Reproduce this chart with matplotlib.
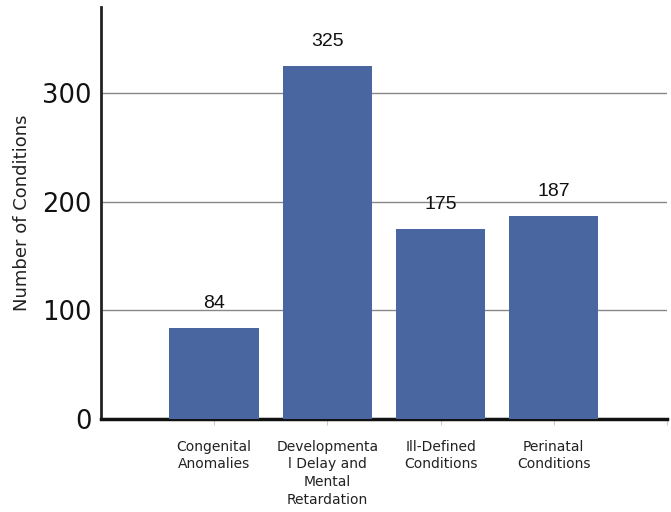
import matplotlib
matplotlib.use('Agg')
import matplotlib.pyplot as plt

# data
categories = ['Congenital\nAnomalies', 'Developmenta\nl Delay and\nMental\nRetardation',
              'Ill-Defined\nConditions', 'Perinatal\nConditions']
counts = [84, 325, 175, 187]
y_ticks = [0, 100, 200, 300]

bar_color = '#4a66a0'

fig = plt.figure(figsize=(6.71, 5.12), dpi=100)
ax = fig.add_axes([0.1505, 0.1816, 0.8435, 0.8044])

positions = list(range(1, len(counts) + 1))
ax.bar(positions, counts, width=0.79, color=bar_color, zorder=3)

for x, v in zip(positions, counts):
    ax.annotate(str(v), (x, v), xytext=(0, 17.5), textcoords='offset points',
                ha='center', va='center', fontsize=14,
                family='Liberation Sans', color='#111111')

ax.set_xlim(0, 5)
ax.set_ylim(0, 379)

ax.set_yticks(y_ticks)
ax.set_yticklabels([str(t) for t in y_ticks], fontsize=18.5, color='#111111')
ax.tick_params(axis='y', length=0, pad=7)

ax.set_xticks(positions + [5])
ax.set_xticklabels(categories + [''], fontsize=10, color='#222222', linespacing=1.33)
ax.tick_params(axis='x', length=4, color='#cccccc', pad=11)

ax.yaxis.grid(True, color='#888888', linewidth=1, zorder=0)
ax.set_axisbelow(True)

for side in ['top', 'right']:
    ax.spines[side].set_visible(False)
ax.spines['left'].set_linewidth(2)
ax.spines['left'].set_color('#222222')
ax.spines['bottom'].set_linewidth(2.5)
ax.spines['bottom'].set_color('#111111')

ax.set_ylabel('Number of Conditions', fontsize=13, color='#222222', labelpad=8)

fig.savefig('out.png', dpi=100)
